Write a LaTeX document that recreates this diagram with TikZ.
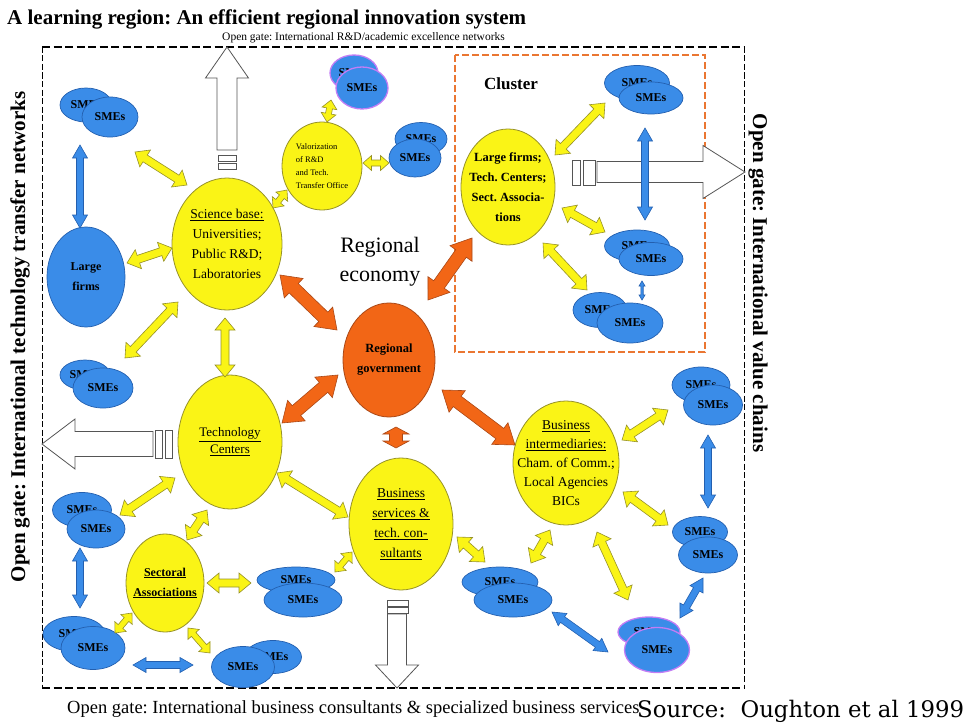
\documentclass[tikz,border=0pt]{standalone}
\usepackage{fontspec}
\usepackage{graphicx}
\setmainfont{Liberation Serif}
\newfontfamily\sourcefont{DejaVu Serif}
\usetikzlibrary{shapes.geometric,calc}
\frenchspacing

\definecolor{yfill}{RGB}{250,244,22}
\definecolor{yline}{RGB}{150,145,40}
\definecolor{bfill}{RGB}{58,140,232}
\definecolor{bline}{RGB}{35,95,175}
\definecolor{ofill}{RGB}{242,102,22}
\definecolor{oline}{RGB}{170,72,22}
\definecolor{clusterline}{RGB}{234,118,50}
\definecolor{smeviolet}{RGB}{195,125,245}
\definecolor{gategray}{RGB}{85,85,85}

\newcommand\fs[2]{\fontsize{#1}{#2}\selectfont}

\tikzset{
  yellownode/.style={ellipse, fill=yfill, draw=yline, line width=0.8pt, inner sep=0pt},
  ytext/.style={align=center, inner sep=0pt, font=\fs{13.5}{20}},
  bluenode/.style={ellipse, fill=bfill, draw=bline, line width=0.7pt, inner sep=0pt, font=\bfseries\fs{12}{14}},
  smenode/.style={bluenode},
  smeviol/.style={bluenode, draw=smeviolet, line width=1.3pt},
  govnode/.style={ellipse, fill=ofill, draw=oline, line width=0.8pt, inner sep=0pt},
  ytip/.style={fill=yfill, draw=yline, line width=0.6pt},
  btip/.style={fill=bfill, draw=bline, line width=0.6pt},
  otip/.style={fill=ofill, draw=oline, line width=0.6pt},
  gatefill/.style={fill=white, draw=gategray, line width=0.8pt},
  gatebar/.style={fill=white, draw=gategray, line width=0.7pt},
  outerthick/.style={line width=1.8pt, dash pattern=on 8pt off 3.5pt},
  outerthin/.style={line width=1pt, dash pattern=on 6pt off 2.5pt},
}

% double-headed block arrow: style, end, end, half shaft, half head, head length
\newcommand\blockarrow[6]{%
  \coordinate (baS) at (#2);
  \coordinate (baE) at (#3);
  \coordinate (baP) at ($(baS)!#6!(baE)$);
  \coordinate (baQ) at ($(baE)!#6!(baS)$);
  \draw[#1] (baS) -- ($(baP)!#5!90:(baE)$) -- ($(baP)!#4!90:(baE)$)
    -- ($(baQ)!#4!-90:(baS)$) -- ($(baQ)!#5!-90:(baS)$) -- (baE)
    -- ($(baQ)!#5!90:(baS)$) -- ($(baQ)!#4!90:(baS)$)
    -- ($(baP)!#4!-90:(baE)$) -- ($(baP)!#5!-90:(baE)$) -- cycle;
}
\newcommand\yarrow[2]{\blockarrow{ytip}{#1}{#2}{4pt}{10pt}{12pt}}
\newcommand\ysmall[2]{\blockarrow{ytip}{#1}{#2}{3pt}{7.5pt}{8.5pt}}
\newcommand\barrow[2]{\blockarrow{btip}{#1}{#2}{3.5pt}{7.5pt}{13pt}}
\newcommand\bthin[2]{\blockarrow{btip}{#1}{#2}{1.2pt}{3pt}{5pt}}
\newcommand\oarrow[2]{\blockarrow{otip}{#1}{#2}{6.5pt}{13.5pt}{19pt}}
\newcommand\osmall[2]{\blockarrow{otip}{#1}{#2}{6.5pt}{13pt}{7pt}}

% hollow single arrow towards an open gate: tail, tip, half shaft, half head, head length
\newcommand\gatearrow[5]{%
  \coordinate (gaS) at (#1);
  \coordinate (gaE) at (#2);
  \coordinate (gaQ) at ($(gaE)!#5!(gaS)$);
  \draw[gatefill] ($(gaS)!#3!90:(gaE)$) -- ($(gaQ)!#3!-90:(gaS)$)
    -- ($(gaQ)!#4!-90:(gaS)$) -- (gaE) -- ($(gaQ)!#4!90:(gaS)$)
    -- ($(gaQ)!#3!90:(gaS)$) -- ($(gaS)!#3!-90:(gaE)$) -- cycle;
}

\begin{document}
\begin{tikzpicture}[x=1pt,y=-1pt]
\useasboundingbox (0,0) rectangle (966,725);

% titles and captions
\node[anchor=base west, font=\bfseries\fs{21}{24}, inner sep=0pt] (title) at (7,25)
  {A learning region: An efficient regional innovation system};
\node[anchor=base west, font=\fs{11.5}{13}, inner sep=0pt] (gatetop) at (222,41)
  {Open gate: International R\&D/academic excellence networks};
\node[anchor=base west, font=\fs{18.5}{20}, inner sep=0pt] (gatebottom) at (67,713)
  {Open gate: International business consultants \& specialized business services};
\node[anchor=base west, font=\sourcefont\fs{22.8}{26}, inner sep=0pt] (source) at (637,717)
  {Source:\ \ Oughton et al 1999};
\node[rotate=90, font=\bfseries\fs{21}{24}, inner sep=0pt] (gateleft) at (20,337)
  {Open gate: International technology transfer networks};
\node[rotate=-90, font=\bfseries\fs{21}{24}, inner sep=0pt] (gateright) at (758,283)
  {Open gate: International value chains};

% region boundary and cluster boundary
\draw[outerthick] (42,47) -- (744,47);
\draw[outerthick] (42,688) -- (744,688);
\draw[outerthin] (42,47) -- (42,688);
\draw[outerthin] (744,47) -- (744,688);
\draw[clusterline, line width=1.6pt, dash pattern=on 7pt off 3pt] (455,55) rectangle (705,352);
\node[font=\bfseries\fs{17}{20}, inner sep=0pt] (clusterlabel) at (511,84) {Cluster};
\node[font=\fs{22}{29}, align=center, inner sep=0pt] (economy) at (380,262) {Regional\\economy};

% gate tips on the boundary
\coordinate (gateN) at (227,47);
\coordinate (gateE) at (745,172);
\coordinate (gateW) at (42,444);
\coordinate (gateS) at (397,688);

% institutions
\node[yellownode, minimum width=110pt, minimum height=132pt,
  label={[ytext]center:{\underline{Science base:}\\Universities;\\Public R\&D;\\Laboratories}}] (sci) at (227,244) {};
\node[yellownode, minimum width=80pt, minimum height=88pt,
  label={[align=left, inner sep=0pt, font=\fs{8.5}{13}]center:{Valorization\\of R\&D\\and Tech.\\Transfer Office}}] (val) at (322,166) {};
\node[yellownode, minimum width=94pt, minimum height=116pt,
  label={[ytext, font=\bfseries\fs{12.5}{20}]center:{Large firms;\\Tech. Centers;\\Sect. Associa-\\tions}}] (clu) at (508,187) {};
\node[yellownode, minimum width=104pt, minimum height=134pt,
  label={[ytext, font=\fs{13}{17}]center:{\underline{Technology}\\\underline{Centers}}}] (tech) at (230,442) {};
\node[yellownode, minimum width=78pt, minimum height=98pt,
  label={[ytext, font=\bfseries\fs{12}{20}]center:{\underline{Sectoral}\\\underline{Associations}}}] (sect) at (165,583) {};
\node[yellownode, minimum width=104pt, minimum height=132pt,
  label={[ytext]center:{\underline{Business}\\\underline{services \&}\\\underline{tech. con-}\\\underline{sultants}}}] (bserv) at (401,524) {};
\node[yellownode, minimum width=106pt, minimum height=124pt,
  label={[ytext, font=\fs{13.5}{19}]center:{\underline{Business}\\\underline{intermediaries:}\\Cham. of Comm.;\\Local Agencies\\BICs}}] (binter) at (566,463) {};
\node[govnode, minimum width=92pt, minimum height=114pt, align=center,
  font=\bfseries\fs{12.5}{20}] (gov) at (389,360) {Regional\\government};
\node[bluenode, minimum width=78pt, minimum height=100pt, align=center,
  font=\bfseries\fs{12}{20}] (large) at (86,277) {Large\\firms};

% SME groups (back ellipse, then front ellipse)
\node[smenode, minimum width=52pt, minimum height=34pt] (s1b) at (86,105) {SMEs};
\node[smenode, minimum width=56pt, minimum height=40pt] (s1) at (110,117) {SMEs};
\node[smeviol, minimum width=48pt, minimum height=36pt] (s2b) at (354,73) {SMEs};
\node[smeviol, minimum width=52pt, minimum height=42pt] (s2) at (362,88) {SMEs};
\node[smenode, minimum width=52pt, minimum height=33pt] (s3b) at (421,139) {SMEs};
\node[smenode, minimum width=52pt, minimum height=38pt] (s3) at (415,158) {SMEs};
\node[smenode, minimum width=65pt, minimum height=35pt] (s4b) at (637,83) {SMEs};
\node[smenode, minimum width=64pt, minimum height=32pt] (s4) at (651,98) {SMEs};
\node[smenode, minimum width=65pt, minimum height=32pt] (s5b) at (637,246) {SMEs};
\node[smenode, minimum width=64pt, minimum height=33pt] (s5) at (651,259) {SMEs};
\node[smenode, minimum width=54pt, minimum height=35pt] (s6b) at (600,310) {SMEs};
\node[smenode, minimum width=66pt, minimum height=40pt] (s6) at (630,323) {SMEs};
\node[smenode, minimum width=50pt, minimum height=30pt] (s7b) at (85,375) {SMEs};
\node[smenode, minimum width=60pt, minimum height=40pt] (s7) at (103,388) {SMEs};
\node[smenode, minimum width=59pt, minimum height=35pt] (s8b) at (82,510) {SMEs};
\node[smenode, minimum width=58pt, minimum height=38pt] (s8) at (96,529) {SMEs};
\node[smenode, minimum width=62pt, minimum height=35pt] (s9b) at (74,634) {SMEs};
\node[smenode, minimum width=64pt, minimum height=43pt] (s9) at (93,648) {SMEs};
\node[smenode, minimum width=57pt, minimum height=33pt] (s10b) at (273,657) {SMEs};
\node[smenode, minimum width=63pt, minimum height=41pt] (s10) at (243,667) {SMEs};
\node[smenode, minimum width=78pt, minimum height=26pt] (s11b) at (296,580) {SMEs};
\node[smenode, minimum width=78pt, minimum height=34pt] (s11) at (303,600) {SMEs};
\node[smenode, minimum width=76pt, minimum height=30pt] (s12b) at (500,582) {SMEs};
\node[smenode, minimum width=78pt, minimum height=34pt] (s12) at (513,600) {SMEs};
\node[smenode, minimum width=58pt, minimum height=36pt] (s13b) at (701,385) {SMEs};
\node[smenode, minimum width=59pt, minimum height=40pt] (s13) at (713,405) {SMEs};
\node[smenode, minimum width=55pt, minimum height=31pt] (s14b) at (700,532) {SMEs};
\node[smenode, minimum width=59pt, minimum height=36pt] (s14) at (708,555) {SMEs};
\node[smeviol, minimum width=62pt, minimum height=30pt] (s15b) at (649,632) {SMEs};
\node[smeviol, minimum width=65pt, minimum height=45pt] (s15) at (657,650) {SMEs};

% open gate arrows with their gate bars
\gatearrow{$(sci)+(0,-94)$}{gateN}{10pt}{21.5pt}{31pt}
\draw[gatebar] ($(sci)+(-9,-89)$) rectangle ($(sci)+(9,-83)$);
\draw[gatebar] ($(sci)+(-9,-81)$) rectangle ($(sci)+(9,-75)$);
\gatearrow{$(clu)+(89,-15)$}{gateE}{10.5pt}{26.5pt}{42pt}
\draw[gatebar] ($(clu)+(64,-27)$) rectangle ($(clu)+(72,-2)$);
\draw[gatebar] ($(clu)+(75,-27)$) rectangle ($(clu)+(87,-2)$);
\gatearrow{$(tech)+(-77,2)$}{gateW}{12.5pt}{25pt}{33pt}
\draw[gatebar] ($(tech)+(-75,-12)$) rectangle ($(tech)+(-68,16)$);
\draw[gatebar] ($(tech)+(-65,-12)$) rectangle ($(tech)+(-58,16)$);
\gatearrow{$(bserv)+(-4,90)$}{gateS}{9.5pt}{21.5pt}{23pt}
\draw[gatebar] ($(bserv)+(-14,76)$) rectangle ($(bserv)+(7,82)$);
\draw[gatebar] ($(bserv)+(-14,83)$) rectangle ($(bserv)+(7,89)$);

% yellow links
\yarrow{$(sci)+(-40,-59)$}{$(s1)+(25,35)$}
\yarrow{$(sci)+(-55,4)$}{$(large)+(41,-14)$}
\yarrow{$(sci)+(-49,58)$}{$(s7)+(22,-30)$}
\yarrow{$(sci)+(-2,74)$}{$(tech)+(-5,-65)$}
\ysmall{$(sci)+(46,-36)$}{$(val)+(-35,24)$}
\ysmall{$(val)+(5,-44)$}{$(s2)+(-31,12)$}
\ysmall{$(val)+(41,-3)$}{$(s3)+(-26,5)$}
\yarrow{$(clu)+(47,-32)$}{$(s4)+(-46,5)$}
\yarrow{$(clu)+(54,21)$}{$(s5)+(-46,-27)$}
\yarrow{$(clu)+(35,56)$}{$(s6)+(-43,-33)$}
\yarrow{$(tech)+(-55,36)$}{$(s8)+(24,-14)$}
\yarrow{$(tech)+(-23,68)$}{$(sect)+(22,-43)$}
\yarrow{$(tech)+(47,31)$}{$(bserv)+(-53,-7)$}
\yarrow{$(sect)+(42,0)$}{$(s11)+(-52,-17)$}
\ysmall{$(sect)+(-33,30)$}{$(s9)+(22,-15)$}
\ysmall{$(sect)+(23,45)$}{$(s10)+(-33,-14)$}
\ysmall{$(bserv)+(-49,28)$}{$(s11)+(32,-28)$}
\yarrow{$(bserv)+(56,13)$}{$(s12)+(-28,-38)$}
\yarrow{$(binter)+(-16,67)$}{$(s12)+(18,-37)$}
\yarrow{$(binter)+(31,69)$}{$(s15)+(-29,-50)$}
\yarrow{$(binter)+(56,-23)$}{$(s13)+(-45,5)$}
\yarrow{$(binter)+(57,29)$}{$(s14)+(-40,-30)$}

% blue links between firms
\barrow{$(s1b)+(-6,40)$}{$(large)+(-6,-49)$}
\barrow{$(s4)+(-6,30)$}{$(s5b)+(8,-26)$}
\bthin{$(s5)+(-9,22)$}{$(s6)+(12,-23)$}
\barrow{$(s8)+(-16,19)$}{$(s9b)+(6,-26)$}
\barrow{$(s9)+(40,17)$}{$(s10)+(-50,-2)$}
\barrow{$(s12)+(39,12)$}{$(s15)+(-49,2)$}
\barrow{$(s13)+(-5,30)$}{$(s14b)+(8,-24)$}
\barrow{$(s14)+(-5,23)$}{$(s15)+(23,-32)$}

% orange links to regional government
\oarrow{$(sci)+(53,31)$}{$(gov)+(-52,-30)$}
\oarrow{$(tech)+(52,-19)$}{$(gov)+(-51,15)$}
\oarrow{$(clu)+(-36,51)$}{$(gov)+(39,-60)$}
\osmall{$(gov)+(7,67)$}{$(bserv)+(-5,-76)$}
\oarrow{$(gov)+(53,30)$}{$(binter)+(-51,-18)$}
\end{tikzpicture}
\end{document}
